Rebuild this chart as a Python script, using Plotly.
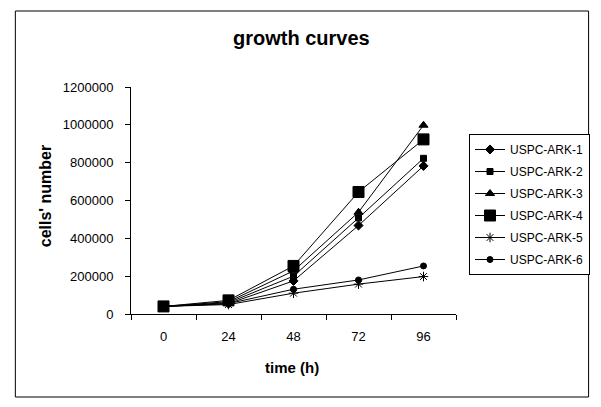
import plotly.graph_objects as go

times = ["0", "24", "48", "72", "96"]
series_names = ["USPC-ARK-1", "USPC-ARK-2", "USPC-ARK-3", "USPC-ARK-4", "USPC-ARK-5", "USPC-ARK-6"]
ark1 = [40000, 55000, 175000, 468000, 783000]
ark2 = [40000, 60000, 200000, 508000, 823000]
ark3 = [40000, 65000, 228000, 538000, 998000]
ark4 = [40000, 72000, 254000, 645000, 923000]
ark5 = [40000, 50000, 110000, 158000, 198000]
ark6 = [40000, 55000, 131000, 180000, 254000]
y_ticks = [0, 200000, 400000, 600000, 800000, 1000000, 1200000]

values = [ark1, ark2, ark3, ark4, ark5, ark6]
symbols = ["diamond", "square", "triangle-up", "square", "asterisk-open", "circle"]
sizes = [7, 6, 8, 11, 8, 6]

OFF = 8  # browser body margin
W, H = 601 - OFF, 407 - OFF
# plot area in screen pixels
L, R, T, B = 131, 457, 87, 314

def px(x):
    return (x - L) / (R - L)

def py(y):
    return (B - y) / (B - T)

fig = go.Figure()
for i, (name, vals) in enumerate(zip(series_names, values)):
    fig.add_trace(go.Scatter(
        x=times, y=vals, name=name, mode="lines+markers",
        legendgroup=name,
        line=dict(color="black", width=1),
        marker=dict(symbol=symbols[i], size=sizes[i], color="black",
                    line=dict(color="black", width=1)),
    ))

font = "Arial, Liberation Sans, sans-serif"
fig.update_layout(
    width=W, height=H,
    margin=dict(l=L - OFF, r=W - (R - OFF), t=T - OFF, b=H - (B - OFF), pad=0),
    paper_bgcolor="white", plot_bgcolor="white",
    font=dict(family=font, size=13, color="black"),
    showlegend=True,
    legend=dict(x=px(469), xanchor="left", y=py(134), yanchor="top",
                bordercolor="black", borderwidth=1, bgcolor="white",
                font=dict(size=12, family=font), tracegroupgap=3,
                itemwidth=30),
    xaxis=dict(type="category", range=[-0.5, 4.5], tickson="boundaries",
               ticks="outside", ticklen=5, tickcolor="black",
               showline=True, linecolor="black", linewidth=1,
               showgrid=False, zeroline=False, ticklabelstandoff=10,
               tickfont=dict(size=13)),
    yaxis=dict(range=[0, 1200000], tickvals=y_ticks,
               ticktext=[str(v) for v in y_ticks],
               ticks="outside", ticklen=5, tickcolor="black",
               showline=True, linecolor="black", linewidth=1,
               showgrid=False, zeroline=False, ticklabelstandoff=9,
               tickfont=dict(size=13)),
    shapes=[dict(type="rect", xref="paper", yref="paper",
                 x0=px(15), x1=px(590), y0=py(397), y1=py(11),
                 line=dict(color="black", width=1), layer="below")],
    annotations=[
        dict(text="<b>growth curves</b>", xref="paper", yref="paper",
             x=px(302), y=py(38), xanchor="center", yanchor="middle",
             showarrow=False, font=dict(size=20, family=font)),
        dict(text="<b>time (h)</b>", xref="paper", yref="paper",
             x=px(292), y=py(367), xanchor="center", yanchor="middle",
             showarrow=False, font=dict(size=15, family=font)),
        dict(text="<b>cells' number</b>", xref="paper", yref="paper",
             x=px(45), y=py(196), xanchor="center", yanchor="middle",
             showarrow=False, textangle=-90,
             font=dict(size=16, family=font)),
    ],
)

fig.write_html("out.html")
